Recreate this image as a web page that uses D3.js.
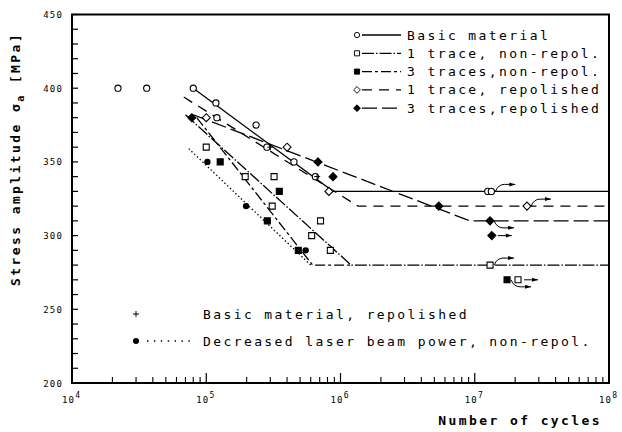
<!DOCTYPE html>
<html lang="en">
  <head>
    <meta charset="utf-8">
    <script src="https://cdnjs.cloudflare.com/ajax/libs/d3/7.8.5/d3.min.js"></script>
    <style>
      body { margin: 0; background: #fff; }
      text { font-family: "DejaVu Sans Mono", monospace; fill: #000; }
      .lbl { font-size: 13px; letter-spacing: 2.4px; }
      .tick-lbl { font-size: 9px; letter-spacing: 1.2px; }
      .title { font-size: 13px; letter-spacing: 2.4px; font-weight: bold; }
      .frame { fill: none; stroke: #000; stroke-width: 2; }
      .fit { fill: none; stroke: #000; stroke-width: 1.3; }
      .arrow { fill: none; stroke: #000; stroke-width: 1; }
    </style>
  </head>
  <body>
  <script>
  var width = 622,
      height = 432;

  // axis ticks
  var xDecades = [4, 5, 6, 7, 8];
  var yTicks = [200, 250, 300, 350, 400, 450];

  // measured points [cycles, stress MPa]
  var basicPts     = [[2.2e4, 400], [3.6e4, 400], [8e4, 400], [1.18e5, 390], [1.2e5, 380], [2.35e5, 375],
                      [2.83e5, 360], [4.5e5, 350], [6.5e5, 340], [1.25e7, 330], [1.33e7, 330]];
  var oneNonPts    = [[1.0e5, 360], [1.95e5, 340], [3.2e5, 340], [3.1e5, 320], [7.1e5, 310], [6.1e5, 300],
                      [8.4e5, 290], [1.3e7, 280], [2.1e7, 270]];
  var threeNonPts  = [[1.27e5, 350], [3.5e5, 330], [2.85e5, 310], [4.85e5, 290], [1.74e7, 270]];
  var oneRepPts    = [[1.0e5, 380], [4.0e5, 360], [8.2e5, 330], [2.45e7, 320]];
  var threeRepPts  = [[7.8e4, 380], [6.8e5, 350], [8.8e5, 340], [5.4e6, 320], [1.3e7, 310], [1.34e7, 300]];
  var laserPts     = [[1.02e5, 350], [1.98e5, 320], [5.5e5, 290]];
  var basicRepPts  = [[3.0e5, 360], [6.7e5, 340]];

  // run-outs (did not fail): [cycles, stress, arrow]
  var runouts = [[1.33e7, 330, 'up'], [2.45e7, 320, 'up'], [1.3e7, 310, 'down'], [1.34e7, 300, 'flat'],
                 [1.3e7, 280, 'up'], [1.74e7, 270, 'down'], [2.1e7, 270, 'flat']];

  // fitted S-N lines
  var basicFit    = [[8e4, 400], [8.8e5, 330], [1e8, 330]];
  var oneNonFit   = [[7.0e4, 382], [1.2e6, 280], [1e8, 280]];
  var threeNonFit = [[8.5e4, 380], [6.2e5, 280], [1.2e6, 280]];
  var oneRepFit   = [[6.8e4, 394], [1.35e6, 320], [1e8, 320]];
  var threeRepFit = [[8e4, 382], [9.2e6, 310], [1e8, 310]];
  var laserFit    = [[7.4e4, 359], [6.0e5, 280]];

  var legendNames = ['Basic material', '1 trace, non-repol.', '3 traces,non-repol.',
                     '1 trace, repolished', '3 traces,repolished'];

  var series = [
    { name: legendNames[0], pts: basicPts,    fit: basicFit,    sym: 'circle',  fill: false, dash: null },
    { name: legendNames[1], pts: oneNonPts,   fit: oneNonFit,   sym: 'square',  fill: false, dash: '12,2,1.5,2' },
    { name: legendNames[2], pts: threeNonPts, fit: threeNonFit, sym: 'square',  fill: true,  dash: '10,3,3,3' },
    { name: legendNames[3], pts: oneRepPts,   fit: oneRepFit,   sym: 'diamond', fill: false, dash: '10,7' },
    { name: legendNames[4], pts: threeRepPts, fit: threeRepFit, sym: 'diamond', fill: true,  dash: '15,5' }
  ];

  var svg = d3.select('body')
    .append('svg')
    .attr('width', width)
    .attr('height', height);

  var x = d3.scaleLog().domain([1e4, 1e8]).range([72, 609]);
  var y = d3.scaleLinear().domain([200, 450]).range([383, 14.5]);

  var line = d3.line()
    .x(d => x(d[0]))
    .y(d => y(d[1]));

  // symbol paths centred on 0,0
  var symPath = {
    circle: d3.symbol().type(d3.symbolCircle).size(30)(),
    square: 'M-3,-3h6v6h-6Z',
    diamond: 'M0,-4L4,0L0,4L-4,0Z'
  };

  function drawSym (g, sym, fill) {
    g.append('path')
      .attr('d', symPath[sym])
      .attr('fill', fill ? '#000' : '#fff')
      .attr('stroke', '#000')
      .attr('stroke-width', 1.1);
  }

  // frame
  svg.append('rect')
    .attr('class', 'frame')
    .attr('x', x.range()[0]).attr('y', y.range()[1])
    .attr('width', x.range()[1] - x.range()[0])
    .attr('height', y.range()[0] - y.range()[1]);

  // y ticks (inward), minor every 10
  var yAxis = svg.append('g').attr('class', 'y-axis');
  d3.range(200, 451, 10).forEach(v => {
    yAxis.append('line')
      .attr('x1', x.range()[0]).attr('x2', x.range()[0] + 6)
      .attr('y1', y(v)).attr('y2', y(v))
      .attr('stroke', '#000').attr('stroke-width', 1.2);
  });
  yAxis.selectAll('text')
    .data(yTicks)
    .enter().append('text')
      .attr('class', 'tick-lbl')
      .attr('x', 63)
      .attr('y', d => y(d) + 3.5)
      .attr('text-anchor', 'end')
      .text(d => d);

  // x ticks (inward), minor 2..9 per decade
  var xAxis = svg.append('g').attr('class', 'x-axis');
  xDecades.forEach(e => {
    var base = Math.pow(10, e);
    xAxis.append('line')
      .attr('x1', x(base)).attr('x2', x(base))
      .attr('y1', y(200)).attr('y2', y(200) - 10)
      .attr('stroke', '#000').attr('stroke-width', 1.2);
    if (e < 8) {
      d3.range(2, 10).forEach(m => {
        xAxis.append('line')
          .attr('x1', x(base * m)).attr('x2', x(base * m))
          .attr('y1', y(200)).attr('y2', y(200) - 6)
          .attr('stroke', '#000').attr('stroke-width', 1.1);
      });
    }
    var t = xAxis.append('text')
      .attr('class', 'tick-lbl')
      .attr('x', x(base) - 10)
      .attr('y', y(200) + 20);
    t.append('tspan').text('10');
    t.append('tspan').attr('dy', -5).attr('font-size', '8px').text(e);
  });

  // axis titles
  svg.append('text')
    .attr('class', 'title')
    .attr('x', 602)
    .attr('y', 425)
    .attr('text-anchor', 'end')
    .text('Number of cycles');

  var yt = svg.append('text')
    .attr('class', 'title')
    .attr('transform', 'translate(20,159) rotate(-90)')
    .attr('text-anchor', 'middle');
  yt.append('tspan').text('Stress amplitude σ');
  yt.append('tspan').attr('dy', 4).attr('font-size', '10px').text('a');
  yt.append('tspan').attr('dy', -4).text(' [MPa]');

  // fitted lines
  series.forEach(s => {
    svg.append('path')
      .attr('class', 'fit')
      .attr('d', line(s.fit))
      .attr('stroke-dasharray', s.dash);
  });
  svg.append('path')
    .attr('class', 'fit')
    .attr('d', line(laserFit))
    .attr('stroke-dasharray', '1.4,2.4');

  // run-out arrows
  runouts.forEach(r => {
    var px = x(r[0]), py = y(r[1]);
    var ey = r[2] === 'up' ? py - 7 : r[2] === 'down' ? py + 7 : py;
    var p = r[2] === 'flat'
      ? 'M' + (px + 6) + ',' + py + 'L' + (px + 20) + ',' + py
      : 'M' + (px + 4) + ',' + py + 'Q' + (px + 7) + ',' + ey + ' ' + (px + 13) + ',' + ey + 'L' + (px + 24) + ',' + ey;
    var ax = r[2] === 'flat' ? px + 20 : px + 24;
    svg.append('path').attr('class', 'arrow').attr('d', p);
    svg.append('path')
      .attr('d', 'M' + (ax - 6) + ',' + (ey - 2) + 'L' + ax + ',' + ey + 'L' + (ax - 6) + ',' + (ey + 2) + 'Z')
      .attr('fill', '#000');
  });

  // points
  series.forEach(s => {
    svg.append('g')
      .selectAll('g')
      .data(s.pts)
      .enter().append('g')
        .attr('transform', d => 'translate(' + x(d[0]) + ',' + y(d[1]) + ')')
        .each(function () { drawSym(d3.select(this), s.sym, s.fill); });
  });
  svg.append('g')
    .selectAll('circle')
    .data(laserPts)
    .enter().append('circle')
      .attr('cx', d => x(d[0]))
      .attr('cy', d => y(d[1]))
      .attr('r', 3.2)
      .attr('fill', '#000');
  svg.append('g')
    .selectAll('path')
    .data(basicRepPts)
    .enter().append('path')
      .attr('d', d => 'M' + (x(d[0]) - 3) + ',' + y(d[1]) + 'h6M' + x(d[0]) + ',' + (y(d[1]) - 3) + 'v6')
      .attr('stroke', '#000').attr('stroke-width', 1);

  // legend, top right
  var legend = svg.append('g').attr('class', 'legend');
  series.forEach((s, i) => {
    var ly = 35 + i * 18.3;
    var g = legend.append('g');
    g.append('line')
      .attr('x1', 362).attr('x2', 401)
      .attr('y1', ly).attr('y2', ly)
      .attr('stroke', '#000').attr('stroke-width', 1.3)
      .attr('stroke-dasharray', s.dash);
    drawSym(g.append('g').attr('transform', 'translate(357,' + ly + ') scale(0.85)'), s.sym, s.fill);
    g.append('text')
      .attr('class', 'lbl')
      .attr('x', 407)
      .attr('y', ly + 4.5)
      .text(s.name);
  });

  // legend, bottom left
  var leg2 = svg.append('g');
  leg2.append('path')
    .attr('d', 'M133,314h6M136,311v6')
    .attr('stroke', '#000').attr('stroke-width', 1);
  leg2.append('text')
    .attr('class', 'lbl')
    .attr('x', 203).attr('y', 318.5)
    .text('Basic material, repolished');
  leg2.append('circle')
    .attr('cx', 136).attr('cy', 341).attr('r', 3)
    .attr('fill', '#000');
  leg2.append('line')
    .attr('x1', 147).attr('x2', 192)
    .attr('y1', 341).attr('y2', 341)
    .attr('stroke', '#000').attr('stroke-width', 1.4)
    .attr('stroke-dasharray', '1.4,5.5');
  leg2.append('text')
    .attr('class', 'lbl')
    .attr('x', 203).attr('y', 345.5)
    .text('Decreased laser beam power, non-repol.');
  </script>
  </body>
</html>
